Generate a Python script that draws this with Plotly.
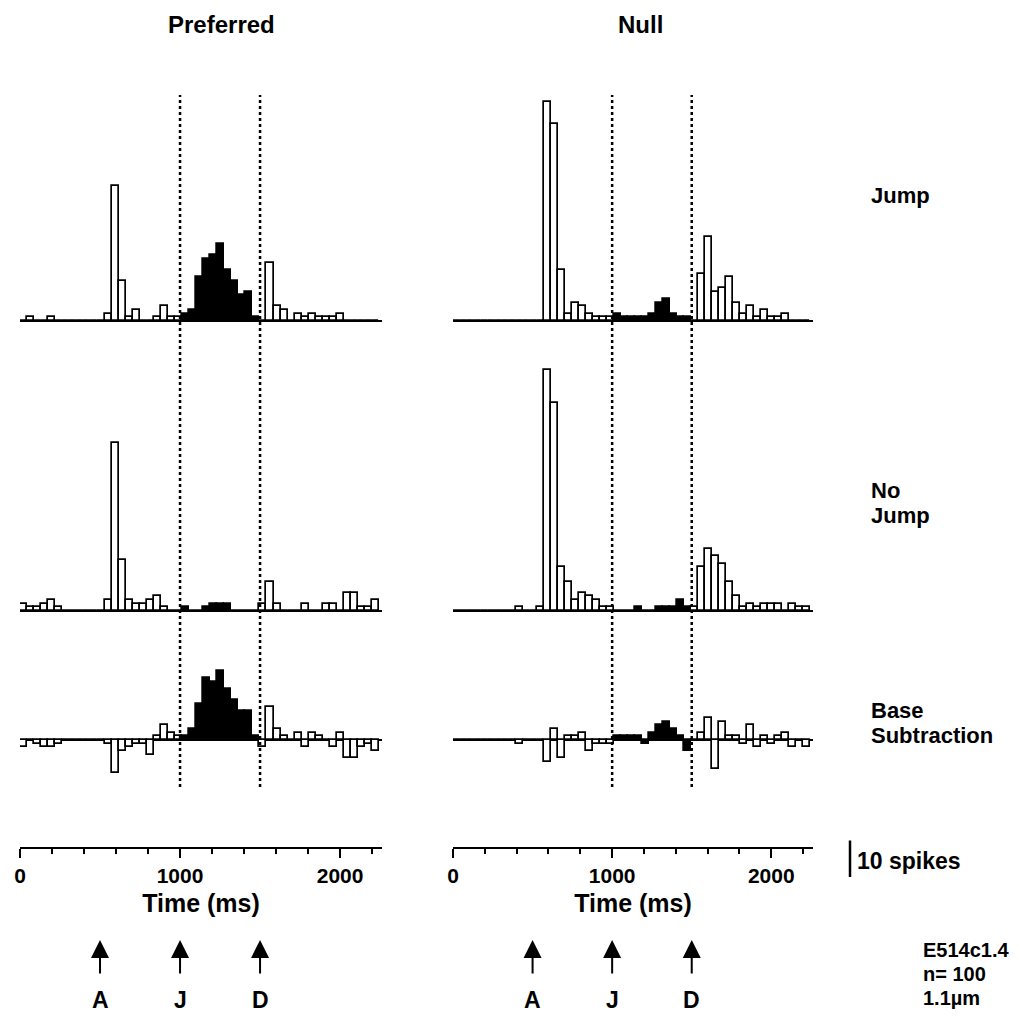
import plotly.graph_objects as go

# ---------------- data ----------------
BIN_MS = 44                      # histogram bin width (ms)
X_MAX = 2262                     # end of time axis (ms)
EVENTS_MS = [500, 1000, 1500]    # A, J, D
EVENT_LABELS = ["A", "J", "D"]
WINDOW_MS = (1000, 1500)         # J .. D (filled bars)
AXIS_TICKS = [0, 1000, 2000]
MINOR_DTICK = 200
SCALE_SPIKES = 10

COLUMN_TITLES = ["Preferred", "Null"]
ROW_LABELS = [["Jump"], ["No", "Jump"], ["Base", "Subtraction"]]
INFO_LINES = ["E514c1.4", "n= 100", "1.1µm"]
AXIS_TITLE = "Time (ms)"
SCALE_LABEL = "10 spikes"

pref_jump = [0, 1, 0, 0, 1, 0, 0, 0, 0, 0,
             0, 0, 2, 37, 11, 1, 3, 0, 0, 1,
             4, 1, 1, 2, 3, 12, 17, 18, 21, 14,
             11, 7, 8, 1, 0, 16, 4, 3, 0, 2,
             1, 2, 1, 1, 1, 2, 0, 0, 0, 0,
             0]
pref_nojump = [2, 1, 1, 2, 3, 1, 0, 0, 0, 0,
               0, 0, 3, 46, 14, 3, 2, 2, 3, 4,
               1, 0, 0, 1, 0, 0, 1, 2, 2, 2,
               0, 0, 0, 0, 2, 8, 2, 0, 0, 0,
               2, 0, 0, 2, 2, 0, 5, 5, 1, 1,
               3]
pref_base = [-2, 0, -1, -2, -2, -1, 0, 0, 0, 0,
             0, 0, -1, -9, -3, -2, -1, -1, -4, 1,
             4, 2, 1, 1, 3, 10, 17, 16, 19, 14,
             11, 8, 8, 1, -2, 9, 3, 1, 0, 2,
             -2, 2, 1, 0, -2, 2, -5, -5, -2, -1,
             -3]
null_jump = [0, 0, 0, 0, 0, 0, 0, 0, 0, 0,
             0, 0, 0, 60, 54, 14, 2, 5, 4, 2,
             1, 1, 1, 2, 1, 1, 1, 1, 2, 5,
             6, 2, 1, 1, 0, 13, 23, 8, 9, 12,
             5, 2, 4, 1, 3, 1, 1, 2, 0, 0,
             0]
null_nojump = [0, 0, 0, 0, 0, 0, 0, 0, 0, 1,
               0, 0, 1, 66, 57, 12, 8, 3, 5, 4,
               3, 1, 1, 0, 0, 0, 1, 0, 0, 1,
               1, 1, 3, 1, 1, 12, 17, 15, 13, 8,
               4, 1, 2, 1, 2, 2, 2, 0, 2, 1,
               1]
null_base = [0, 0, 0, 0, 0, 0, 0, 0, 0, -1,
             0, 0, 0, -6, 3, -5, 1, 1, 2, -3,
             -1, -1, -1, 1, 1, 1, 1, -1, 2, 4,
             5, 3, 1, -3, 0, 2, 6, -8, 5, 1,
             1, -1, 4, -2, 1, -1, 1, 2, -2, 0,
             -2]

PANELS = [[pref_jump, pref_nojump, pref_base],
          [null_jump, null_nojump, null_base]]

# ---------------- layout (pixels in the page) ----------------
OFF = 8                          # default page margin around the plot div
W, H = 1004, 1005                # figure size so that it fits the window
COL_PX = [(20, 382), (453, 813)]
PX_PER_SPIKE = 3.65
ROW_PX = [(90, 321, 332), (336, 611, 624), (628, 740, 800)]  # top, baseline, bottom
DOT_TOP, DOT_BOTTOM = 95, 787
AXIS_LINE_PX = 847
FONT = "Liberation Sans, Arial, sans-serif"


def xd(px):
    return (px - OFF) / W


def yd(px):
    return 1 - (px - OFF) / H


def label(text, x, y, size, xanchor="center"):
    return dict(x=xd(x), y=yd(y), xref="paper", yref="paper", text=text,
                xanchor=xanchor, yanchor="middle", showarrow=False,
                font=dict(size=size, family=FONT, weight="bold", color="black"))


fig = go.Figure()
layout = dict(width=W, height=H, margin=dict(l=0, r=0, t=0, b=0, autoexpand=False),
              paper_bgcolor="white", plot_bgcolor="rgba(0,0,0,0)",
              showlegend=False, bargap=0,
              font=dict(family=FONT, color="black"))
shapes, annotations = [], []

for c, col in enumerate(PANELS):
    x0, x1 = COL_PX[c]
    for r, vals in enumerate(col):
        idx = c * 3 + r + 1
        top, base, bot = ROW_PX[r]
        centers = [BIN_MS * (i + 0.5) for i in range(len(vals))]
        colors = ["black" if WINDOW_MS[0] <= t <= WINDOW_MS[1] else "white" for t in centers]
        fig.add_trace(go.Bar(x=centers, y=vals, width=BIN_MS,
                             marker=dict(color=colors, line=dict(color="black", width=1.7)),
                             xaxis=f"x{idx}", yaxis=f"y{idx}", hoverinfo="skip"))
        layout[f"xaxis{idx}"] = dict(domain=[xd(x0), xd(x1)], range=[0, X_MAX], anchor=f"y{idx}",
                                     visible=False, fixedrange=True)
        layout[f"yaxis{idx}"] = dict(domain=[yd(bot), yd(top)],
                                     range=[-(bot - base) / PX_PER_SPIKE, (base - top) / PX_PER_SPIKE],
                                     anchor=f"x{idx}", showgrid=False, showticklabels=False,
                                     showline=False, ticks="", zeroline=True,
                                     zerolinecolor="black", zerolinewidth=2, fixedrange=True)
    # dotted event lines J and D
    for t in WINDOW_MS:
        shapes.append(dict(type="line", xref=f"x{c * 3 + 1}", yref="paper",
                           x0=t, x1=t, y0=yd(DOT_BOTTOM), y1=yd(DOT_TOP),
                           line=dict(color="black", width=2.5, dash="dot")))
    # bottom time axis
    ai = 7 + c
    fig.add_trace(go.Scatter(x=[], y=[], xaxis=f"x{ai}", yaxis=f"y{ai}"))
    layout[f"xaxis{ai}"] = dict(domain=[xd(x0), xd(x1)], range=[0, X_MAX], anchor=f"y{ai}",
                                showline=True, linecolor="black", linewidth=2,
                                ticks="outside", tickvals=AXIS_TICKS, ticklen=9, tickwidth=2,
                                tickcolor="black", showgrid=False, zeroline=False,
                                minor=dict(ticks="outside", tickmode="linear", tick0=0,
                                           dtick=MINOR_DTICK, ticklen=5, tickwidth=1.5,
                                           tickcolor="black", showgrid=False),
                                tickfont=dict(size=21, family=FONT, weight="bold"),
                                title=dict(text=AXIS_TITLE, standoff=8,
                                           font=dict(size=25, family=FONT, weight="bold")),
                                automargin=False, fixedrange=True)
    layout[f"yaxis{ai}"] = dict(domain=[yd(AXIS_LINE_PX), yd(AXIS_LINE_PX - 10)], range=[0, 1],
                                anchor=f"x{ai}", visible=False, fixedrange=True)
    # event arrows and letters
    for t, lab in zip(EVENTS_MS, EVENT_LABELS):
        annotations.append(dict(x=t, xref=f"x{ai}", y=yd(940), yref="paper", text="",
                                showarrow=True, ax=0, ay=35, arrowhead=2, arrowsize=1.8,
                                arrowwidth=2, arrowcolor="black"))
        annotations.append(dict(x=t, xref=f"x{ai}", y=yd(1000), yref="paper", text=lab,
                                xanchor="center", yanchor="middle", showarrow=False,
                                font=dict(size=23, family=FONT, weight="bold")))

# column titles
for title, cx in zip(COLUMN_TITLES, [221, 640]):
    annotations.append(label(title, cx, 25, 24))

# row labels
ROW_LABEL_Y = [[196], [490, 515], [710, 735]]
for lines, ys in zip(ROW_LABELS, ROW_LABEL_Y):
    for line, y in zip(lines, ys):
        annotations.append(label(line, 869, y, 22, xanchor="left"))

# scale bar (10 spikes)
fig.add_trace(go.Scatter(x=[0, 0], y=[0, SCALE_SPIKES], mode="lines",
                         line=dict(color="black", width=2.5), xaxis="x9", yaxis="y9",
                         hoverinfo="skip"))
layout["xaxis9"] = dict(domain=[xd(847), xd(853)], range=[-1, 1], anchor="y9",
                        visible=False, fixedrange=True)
layout["yaxis9"] = dict(domain=[yd(900), yd(800)],
                        range=[-(900 - 877) / PX_PER_SPIKE, (877 - 800) / PX_PER_SPIKE],
                        anchor="x9", visible=False, fixedrange=True)
annotations.append(label(SCALE_LABEL, 855, 861, 23, xanchor="left"))

# info text
for line, y in zip(INFO_LINES, [950, 974, 998]):
    annotations.append(label(line, 921, y, 20, xanchor="left"))

layout["shapes"] = shapes
layout["annotations"] = annotations
fig.update_layout(**layout)
fig.write_html("out.html")
